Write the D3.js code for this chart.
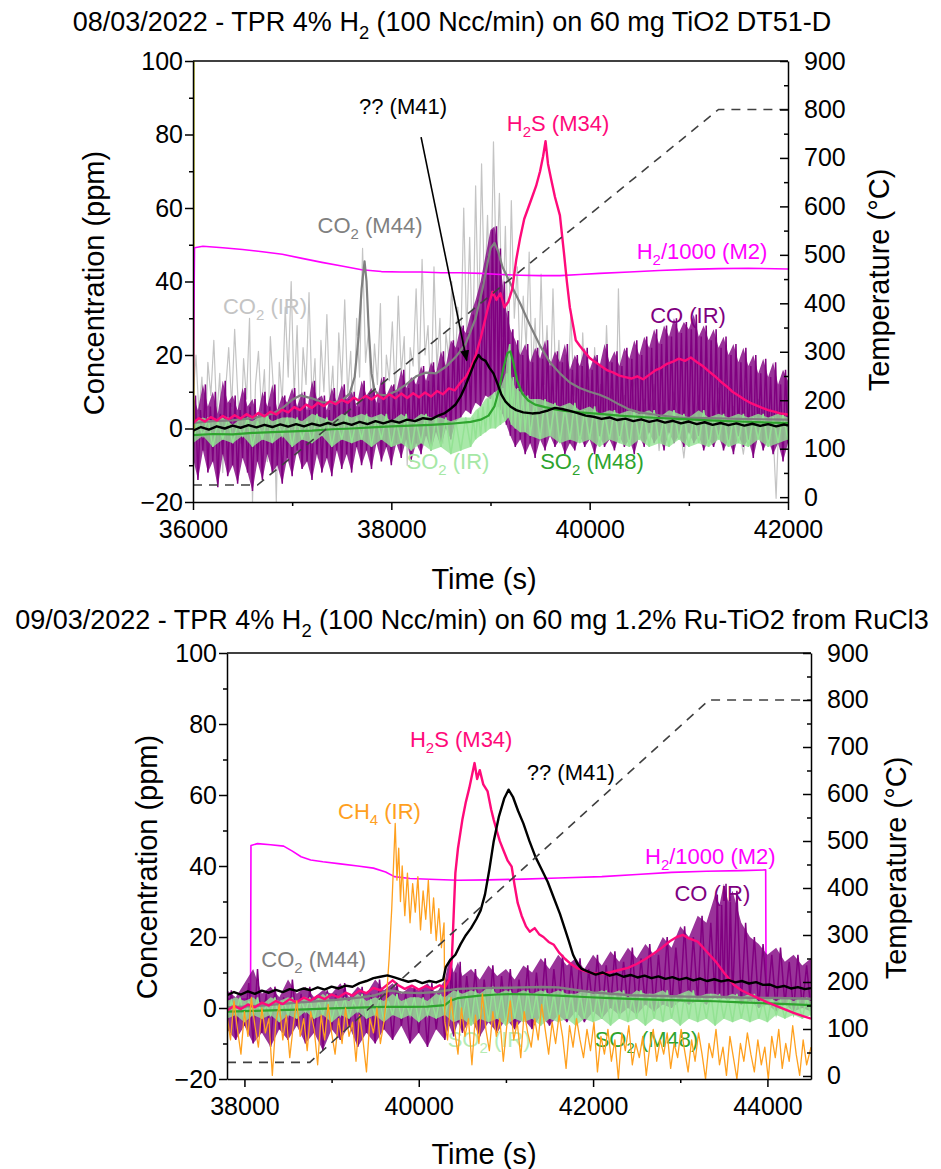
<!DOCTYPE html>
<html>
<head>
<meta charset="utf-8">
<script src="https://d3js.org/d3.v7.min.js"></script>
<style>
body { margin: 0; background: #fff; }
svg { font-family: "Liberation Sans", Arial, sans-serif; }
.axis path, .axis line { stroke: #000; stroke-width: 1.5; }
.axis text { font-size: 25px; fill: #000; font-family: "Liberation Sans", Arial, sans-serif; }
</style>
</head>
<body>
<svg id="chart" width="941" height="1169"></svg>
<script>
// ---------- tick values ----------
var concTicks = [-20, 0, 20, 40, 60, 80, 100];
var concMinor = [-10, 10, 30, 50, 70, 90];
var tempTicks = [0, 100, 200, 300, 400, 500, 600, 700, 800, 900];
var tempMinor = [50, 150, 250, 350, 450, 550, 650, 750, 850];
var timeTicksTop = [36000, 38000, 40000, 42000];
var timeMinorTop = [37000, 39000, 41000];
var timeTicksBot = [38000, 40000, 42000, 44000];
var timeMinorBot = [39000, 41000, 43000];

// ---------- panel 1 : TiO2 DT51-D (08/03/2022) ----------
var tempTop = [[36000,25],[36650,25],[41300,800],[42000,800]];
var odd1Top = [[36010,-1],[36010,101]];
var h2Top = [[36000,1],[36015,49.2],[36100,49.6],[36300,49.2],[36500,48.7],[36700,48.1],[36900,47.4],[37100,46.3],[37300,45.2],[37500,44.2],[37700,43.2],[37900,42.7],[38100,42.6],[38300,42.6],[38500,42.4],[38700,42.4],[38900,42.2],[39100,41.9],[39300,41.7],[39500,41.6],[39700,41.6],[39900,41.9],[40100,42.2],[40400,42.6],[40700,43.0],[41000,43.3],[41300,43.5],[41600,43.6],[42000,43.4]];
var h2sTop = [[36000,1.5],[36060,2.8],[36120,1.9],[36180,3.1],[36240,2.2],[36300,3.4],[36360,2.5],[36420,3.6],[36480,2.7],[36540,3.9],[36600,3.0],[36660,4.2],[36720,3.3],[36780,4.6],[36840,3.8],[36900,5.1],[36960,4.4],[37020,5.8],[37080,5.0],[37140,6.5],[37200,5.6],[37260,7.0],[37320,6.1],[37380,7.4],[37440,6.6],[37500,7.8],[37560,7.0],[37620,8.4],[37680,7.5],[37740,8.9],[37800,7.9],[37860,9.1],[37920,8.0],[37980,9.3],[38040,8.2],[38100,9.5],[38160,8.3],[38220,9.6],[38280,8.5],[38340,9.8],[38400,8.7],[38460,10.2],[38520,9.3],[38580,10.9],[38640,10.4],[38700,12.6],[38750,14.0],[38800,16.5],[38850,19.8],[38900,24.5],[38940,29.0],[38980,33.5],[39020,37.2],[39060,35.0],[39100,36.8],[39140,33.0],[39180,34.5],[39220,38.0],[39260,46.0],[39300,52.0],[39340,57.0],[39380,60.0],[39420,63.0],[39460,66.0],[39500,70.0],[39530,74.0],[39555,78.2],[39580,72.0],[39610,68.0],[39650,63.0],[39700,58.0],[39740,48.0],[39770,40.0],[39800,33.0],[39830,28.5],[39860,24.0],[39900,22.5],[39950,20.8],[40000,19.2],[40060,18.0],[40120,16.9],[40180,15.8],[40240,15.2],[40300,14.4],[40360,14.0],[40420,13.6],[40480,14.2],[40540,13.4],[40600,14.6],[40660,15.8],[40720,16.5],[40780,17.6],[40840,18.2],[40900,19.0],[40960,18.4],[41020,19.3],[41080,18.1],[41140,17.0],[41200,15.6],[41260,14.3],[41320,12.8],[41380,11.5],[41440,10.0],[41500,9.0],[41560,7.9],[41620,7.0],[41680,6.3],[41740,5.6],[41800,5.0],[41860,4.6],[41920,4.1],[42000,3.8]];
var m41Top = [[36000,-0.6],[36080,0.4],[36160,-0.3],[36240,0.6],[36320,0.0],[36400,0.8],[36480,0.2],[36560,0.9],[36640,0.3],[36720,1.0],[36800,0.4],[36880,1.1],[36960,0.5],[37040,1.2],[37120,0.6],[37200,1.3],[37280,0.8],[37360,1.5],[37440,0.9],[37520,1.6],[37600,1.0],[37680,1.8],[37760,1.2],[37840,2.0],[37920,1.4],[38000,2.1],[38080,1.6],[38160,2.4],[38240,2.0],[38320,2.8],[38400,2.5],[38480,3.6],[38540,4.2],[38600,5.4],[38650,6.6],[38700,8.8],[38750,11.8],[38800,15.2],[38840,18.0],[38880,20.0],[38910,19.0],[38950,18.4],[38990,16.5],[39030,15.0],[39070,12.2],[39110,9.2],[39150,7.4],[39200,6.0],[39260,5.0],[39330,4.4],[39420,4.1],[39500,4.3],[39580,4.9],[39650,5.6],[39720,5.3],[39800,4.8],[39880,4.2],[39960,3.5],[40040,3.2],[40120,2.6],[40200,3.0],[40280,2.3],[40360,2.7],[40440,2.0],[40520,2.5],[40600,1.8],[40680,2.3],[40760,1.6],[40840,2.1],[40920,1.4],[41000,1.9],[41080,1.2],[41160,1.7],[41240,1.0],[41320,1.5],[41400,0.9],[41480,1.4],[41560,0.8],[41640,1.3],[41720,0.7],[41800,1.2],[41880,0.6],[41960,1.1],[42000,0.8]];
var co2msTop = [[36000,1.5],[36200,2.0],[36400,2.2],[36600,2.8],[36800,4.0],[36900,5.5],[37000,7.8],[37080,9.0],[37200,8.2],[37300,7.2],[37400,7.0],[37500,7.6],[37580,9.5],[37630,14.0],[37670,25.0],[37700,38.0],[37730,45.5],[37750,40.0],[37770,28.0],[37800,15.0],[37830,10.5],[37870,9.2],[37950,9.0],[38050,10.2],[38150,12.0],[38250,14.2],[38350,15.2],[38450,15.0],[38550,16.8],[38650,19.5],[38750,23.0],[38850,30.0],[38920,38.0],[38970,45.0],[39000,49.0],[39040,50.5],[39080,48.0],[39120,44.0],[39200,39.5],[39300,34.0],[39400,28.0],[39500,22.5],[39600,18.0],[39700,15.0],[39800,12.5],[39900,11.0],[40000,10.0],[40100,9.2],[40200,8.0],[40300,6.5],[40400,5.2],[40500,4.4],[40700,3.6],[40900,3.0],[41200,2.8],[41500,2.6],[41800,2.5],[42000,2.4]];
var so2msTop = [[36000,-1.8],[36200,-1.5],[36400,-1.6],[36600,-1.2],[36800,-1.0],[37000,-0.8],[37200,-0.6],[37400,-0.2],[37600,0.0],[37800,0.3],[38000,0.6],[38200,0.8],[38400,1.0],[38600,1.3],[38800,1.8],[38900,2.4],[38980,3.5],[39040,6.0],[39090,11.0],[39130,16.5],[39170,20.5],[39200,21.0],[39230,18.0],[39270,13.0],[39320,9.5],[39380,7.6],[39450,6.5],[39550,5.8],[39650,5.2],[39750,4.8],[39900,4.4],[40100,4.0],[40300,3.5],[40600,3.0],[40900,2.6],[41200,2.2],[41500,1.9],[41800,1.6],[42000,1.5]];
var co2irTop = [[36000,8],[36030,20],[36060,4],[36090,14],[36120,-6],[36150,18],[36180,9],[36210,24],[36240,3],[36270,15],[36300,-12],[36330,11],[36360,22],[36390,6],[36420,27],[36450,10],[36480,-4],[36510,19],[36540,8],[36570,30],[36600,-20],[36630,12],[36660,21],[36690,5],[36720,16],[36750,-9],[36780,25],[36810,11],[36840,-20],[36870,18],[36900,7],[36930,33],[36960,14],[36990,40],[37020,9],[37050,28],[37080,-3],[37110,22],[37140,12],[37170,37],[37200,8],[37230,19],[37260,-8],[37290,24],[37320,10],[37350,31],[37380,6],[37410,17],[37440,-5],[37470,26],[37500,12],[37530,35],[37560,9],[37590,21],[37620,-2],[37650,30],[37680,14],[37710,49],[37740,18],[37770,27],[37800,4],[37830,23],[37860,12],[37890,34],[37920,-6],[37950,20],[37980,13],[38010,29],[38040,8],[38070,36],[38100,15],[38130,25],[38160,-10],[38190,22],[38220,17],[38250,38],[38280,12],[38310,46],[38340,20],[38370,28],[38400,5],[38430,44],[38460,16],[38490,30],[38520,-4],[38550,26],[38580,19],[38610,40],[38640,14],[38670,33],[38700,22],[38730,60],[38760,25],[38790,52],[38820,18],[38850,66],[38880,28],[38910,72],[38940,35],[38970,58],[39000,30],[39030,78],[39060,40],[39090,64],[39120,25],[39150,55],[39180,20],[39210,62],[39240,30],[39270,44],[39300,15],[39330,36],[39360,22],[39390,48],[39420,14],[39450,30],[39480,8],[39510,42],[39540,12],[39570,28],[39600,5],[39630,38],[39660,10],[39690,24],[39720,-3],[39750,20],[39780,7],[39810,32],[39840,9],[39870,16],[39900,2],[39930,26],[39960,6],[39990,14],[40020,-2],[40050,22],[40080,5],[40110,12],[40140,1],[40170,28],[40200,6],[40230,11],[40260,-5],[40290,38],[40320,4],[40350,9],[40400,2],[40450,14],[40500,-3],[40550,8],[40600,1],[40650,12],[40700,-6],[40750,7],[40800,0],[40850,10],[40900,3],[40950,-8],[41000,6],[41050,1],[41100,9],[41150,-2],[41200,5],[41250,0],[41300,11],[41350,2],[41400,-4],[41450,6],[41500,1],[41550,-7],[41600,4],[41650,0],[41700,8],[41750,-3],[41800,3],[41850,-1],[41880,-19],[41910,4],[41950,0],[42000,3]];
// noisy IR signals kept as [time, low, high] envelopes
var coirTop = [[36000,-8,9],[36050,-14,5],[36100,-6,12],[36150,-12,6],[36200,-9,10],[36250,-16,4],[36300,-7,13],[36350,-13,7],[36400,-10,9],[36450,-15,5],[36500,-8,11],[36550,-12,6],[36600,-17,8],[36650,-9,3],[36700,-14,10],[36750,-7,6],[36800,-12,12],[36850,-10,5],[36900,-15,9],[36950,-8,7],[37000,-13,11],[37050,-6,6],[37100,-11,10],[37150,-9,5],[37200,-14,13],[37250,-7,8],[37300,-12,9],[37350,-8,5],[37400,-13,11],[37450,-6,7],[37500,-11,12],[37550,-7,8],[37600,-12,10],[37650,-5,6],[37700,-10,13],[37750,-6,9],[37800,-11,11],[37850,-4,7],[37900,-9,14],[37950,-5,9],[38000,-10,12],[38050,-4,10],[38100,-8,16],[38150,-3,11],[38200,-9,14],[38250,-4,12],[38300,-7,17],[38350,-2,13],[38400,-6,18],[38450,-1,15],[38500,-5,21],[38550,0,17],[38600,-3,24],[38650,2,22],[38700,3,28],[38750,5,26],[38800,4,31],[38850,7,35],[38900,6,40],[38950,9,47],[39000,8,54],[39040,10,55],[39080,6,49],[39120,4,40],[39160,1,32],[39200,-2,27],[39250,-5,24],[39300,-3,20],[39350,-7,23],[39400,-4,18],[39450,-8,22],[39500,-3,19],[39550,-6,24],[39600,-2,17],[39650,-5,21],[39700,-3,18],[39750,-7,23],[39800,-4,16],[39850,-6,20],[39900,-2,17],[39950,-5,22],[40000,-3,16],[40050,-7,20],[40100,-2,17],[40150,-5,23],[40200,-3,18],[40250,-6,21],[40300,-2,17],[40350,-5,22],[40400,-3,19],[40450,-7,24],[40500,-2,20],[40550,-5,25],[40600,-1,22],[40650,-4,27],[40700,-2,23],[40750,-6,28],[40800,-1,25],[40850,-4,30],[40900,-2,26],[40950,-5,29],[41000,-1,27],[41050,-4,31],[41100,-2,25],[41150,-6,28],[41200,-3,24],[41250,-5,27],[41300,-2,22],[41350,-6,25],[41400,-3,20],[41450,-7,23],[41500,-2,18],[41550,-5,22],[41600,-3,17],[41650,-8,20],[41700,-2,15],[41750,-6,19],[41800,-3,14],[41850,-7,18],[41900,-4,12],[41950,-9,16],[42000,-4,13]];
var so2irTop = [[36000,-4,2],[36100,-2,3],[36200,-5,2],[36300,-3,3],[36400,-4,1],[36500,-2,3],[36600,-5,2],[36700,-3,4],[36800,-4,2],[36900,-2,3],[37000,-5,3],[37100,-3,2],[37200,-4,4],[37300,-2,3],[37400,-5,2],[37500,-3,4],[37600,-4,3],[37700,-3,4],[37800,-5,3],[37900,-3,4],[38000,-5,2],[38100,-4,4],[38200,-6,2],[38300,-4,4],[38400,-6,3],[38500,-5,3],[38600,-7,2],[38700,-6,3],[38800,-5,3],[38850,-3,5],[38900,-2,6],[38950,-1,8],[39000,0,9],[39050,0,10],[39100,1,11],[39150,2,15],[39180,3,23],[39210,1,14],[39250,0,11],[39300,-1,10],[39350,-1,9],[39400,-2,8],[39500,-3,8],[39600,-2,7],[39700,-4,6],[39800,-3,7],[39900,-4,5],[40000,-3,6],[40100,-5,4],[40200,-3,5],[40300,-4,4],[40400,-5,5],[40500,-3,4],[40600,-5,5],[40700,-4,3],[40800,-5,5],[40900,-3,4],[41000,-5,3],[41100,-4,5],[41200,-5,3],[41300,-3,4],[41400,-5,3],[41500,-4,4],[41600,-5,3],[41700,-3,4],[41800,-5,3],[41900,-4,4],[42000,-3,3]];

// ---------- panel 2 : 1.2% Ru-TiO2 (09/03/2022) ----------
var tempBot = [[37800,29],[38750,29],[43330,800],[44500,800]];
var h2Bot = [[37800,2.5],[38070,2.5],[38075,45.8],[38150,46.3],[38300,46.0],[38450,45.6],[38550,44.2],[38650,42.6],[38760,41.7],[38900,41.2],[39100,40.6],[39300,40.0],[39480,39.4],[39620,38.3],[39720,37.0],[39900,36.5],[40200,36.2],[40450,36.0],[40800,36.1],[41200,36.3],[41600,36.6],[42100,37.0],[42500,37.6],[42900,38.2],[43300,38.5],[43700,38.7],[43980,38.9],[43985,1.5],[44500,1.5]];
var h2sBot = [[37800,-0.8],[37880,0.6],[37960,-0.3],[38040,1.0],[38120,0.2],[38200,1.5],[38280,0.7],[38360,2.0],[38440,1.1],[38520,2.5],[38600,1.6],[38680,2.9],[38760,2.1],[38840,3.4],[38920,2.5],[39000,3.8],[39080,3.0],[39160,4.3],[39240,3.5],[39320,4.9],[39400,4.2],[39480,5.7],[39560,5.0],[39640,6.6],[39700,7.8],[39760,6.5],[39840,5.4],[39920,6.3],[40000,5.2],[40080,6.2],[40160,5.4],[40240,6.4],[40300,5.8],[40350,8.0],[40380,14.0],[40400,26.0],[40420,38.0],[40450,45.0],[40500,53.0],[40540,58.0],[40580,62.0],[40610,65.5],[40640,69.0],[40670,64.5],[40700,67.0],[40740,63.0],[40790,61.0],[40830,56.0],[40860,53.0],[40900,49.5],[40930,47.0],[40970,44.5],[41020,41.5],[41066,39.8],[41100,34.5],[41135,29.6],[41180,26.0],[41230,23.0],[41273,21.5],[41330,22.5],[41380,20.8],[41430,20.0],[41490,18.6],[41550,17.8],[41610,15.6],[41680,13.8],[41750,12.3],[41820,11.2],[41890,10.5],[41980,9.8],[42100,9.6],[42200,10.1],[42300,10.7],[42400,11.3],[42500,12.4],[42600,13.8],[42700,15.4],[42790,17.0],[42880,18.8],[42960,20.0],[43030,20.6],[43100,19.6],[43200,18.7],[43300,16.0],[43410,13.0],[43500,10.0],[43617,6.5],[43700,5.0],[43800,3.8],[43894,2.8],[44000,1.6],[44100,0.6],[44200,-0.4],[44300,-1.4],[44400,-2.2],[44500,-3.0]];
var m41Bot = [[37800,3.6],[37880,4.5],[37960,3.8],[38040,4.7],[38120,4.0],[38200,4.9],[38280,4.3],[38360,5.1],[38440,4.5],[38520,5.3],[38600,4.8],[38680,5.5],[38760,5.0],[38840,5.8],[38920,5.2],[39000,6.0],[39080,5.5],[39160,6.3],[39240,6.0],[39320,7.0],[39400,7.6],[39480,8.4],[39560,8.8],[39640,9.2],[39720,8.6],[39800,8.0],[39880,7.4],[39960,7.8],[40040,7.0],[40120,7.6],[40200,7.2],[40280,8.0],[40310,11.5],[40360,13.5],[40420,15.0],[40480,18.0],[40540,20.5],[40600,22.5],[40660,25.0],[40710,27.5],[40760,32.0],[40810,39.0],[40860,47.0],[40920,54.0],[40980,59.0],[41030,61.5],[41080,59.5],[41140,55.5],[41200,52.0],[41270,47.0],[41340,42.5],[41410,39.0],[41480,35.5],[41550,31.0],[41620,26.5],[41680,22.0],[41720,19.0],[41770,15.0],[41820,12.5],[41870,11.0],[41950,10.2],[42030,9.4],[42110,10.0],[42190,9.1],[42270,9.6],[42350,8.8],[42430,9.3],[42510,8.6],[42590,9.1],[42670,8.4],[42750,8.9],[42830,8.2],[42910,8.7],[42990,8.0],[43070,8.5],[43150,7.8],[43230,8.3],[43310,7.6],[43390,8.1],[43470,7.5],[43550,7.9],[43630,7.2],[43710,7.6],[43790,6.9],[43870,7.3],[43950,6.5],[44030,6.6],[44110,5.8],[44190,6.2],[44270,5.5],[44350,5.9],[44430,5.3],[44500,5.6]];
var co2msBot = [[37800,0.2],[38000,0.4],[38200,0.7],[38400,1.1],[38650,1.6],[38900,2.0],[39100,2.4],[39340,3.0],[39500,3.6],[39620,4.6],[39690,4.9],[39800,4.4],[40000,4.2],[40200,4.5],[40445,5.4],[40700,5.6],[41000,5.7],[41200,5.8],[41411,5.9],[41600,5.8],[41824,5.0],[42000,4.4],[42200,4.0],[42445,3.6],[42800,3.4],[43100,3.2],[43480,3.1],[43800,2.9],[44100,2.8],[44500,2.6]];
var so2msBot = [[37800,-1.0],[38100,-0.8],[38400,-0.6],[38700,-0.4],[39000,-0.1],[39300,0.1],[39600,0.3],[39900,0.3],[40100,0.4],[40300,0.8],[40360,2.0],[40450,2.8],[40514,3.0],[40700,3.5],[40900,3.8],[41066,3.9],[41300,3.8],[41600,3.5],[41900,3.1],[42200,2.8],[42500,2.5],[42790,2.3],[43100,2.1],[43400,1.9],[43700,1.6],[44000,1.3],[44300,1.0],[44500,0.8]];
var ch4Bot = [[37800,-2],[37840,-9],[37880,2],[37920,-6],[37960,-13],[38000,-1],[38040,-8],[38080,3],[38120,-5],[38160,-11],[38200,0],[38240,-7],[38280,-3],[38320,-19],[38360,-4],[38400,1],[38440,-9],[38480,-2],[38520,-14],[38560,-5],[38600,2],[38640,-8],[38680,-3],[38720,-12],[38760,-1],[38800,-6],[38840,-16],[38880,-2],[38920,-9],[38960,1],[39000,-7],[39040,-13],[39080,-3],[39120,-10],[39160,0],[39200,-8],[39240,-4],[39280,-15],[39320,-2],[39360,-9],[39400,-18],[39440,-3],[39480,-7],[39520,0],[39560,-10],[39600,-4],[39630,3],[39660,14],[39690,28],[39710,40],[39730,52],[39750,36],[39770,45],[39790,30],[39810,40],[39840,26],[39870,38],[39900,24],[39930,35],[39960,27],[39990,37],[40020,22],[40050,33],[40080,25],[40110,36],[40140,21],[40170,31],[40200,19],[40230,28],[40260,17],[40290,24],[40300,-4],[40330,-9],[40370,3],[40410,-6],[40450,-13],[40490,0],[40530,-8],[40570,-3],[40610,-16],[40650,-2],[40690,-10],[40730,4],[40770,-6],[40810,-12],[40850,-1],[40890,-8],[40930,-3],[40970,-15],[41010,-5],[41050,2],[41090,-9],[41130,-4],[41170,-14],[41210,-1],[41250,-7],[41290,-11],[41330,-3],[41370,-9],[41410,1],[41450,-6],[41490,-13],[41530,-4],[41570,-10],[41610,-2],[41650,-8],[41690,-17],[41730,-5],[41770,-11],[41810,-3],[41850,-9],[41890,-14],[41930,-6],[41970,-12],[42010,-4],[42050,-18],[42090,-8],[42130,-13],[42170,-6],[42210,-15],[42250,-9],[42290,-20],[42330,-7],[42370,-12],[42410,-5],[42450,-16],[42490,-10],[42530,-14],[42570,-8],[42610,-19],[42650,-11],[42690,-6],[42730,-15],[42770,-9],[42810,-13],[42850,-7],[42890,-17],[42930,-10],[42970,-14],[43010,-6],[43050,-12],[43090,-18],[43130,-9],[43170,-15],[43210,-7],[43250,-13],[43290,-20],[43330,-10],[43370,-14],[43410,-6],[43450,-16],[43490,-11],[43530,-19],[43570,-8],[43610,-14],[43650,-20],[43690,-10],[43730,-15],[43770,-7],[43810,-13],[43850,-18],[43890,-9],[43930,-16],[43970,-11],[44010,-20],[44050,-8],[44090,-14],[44130,-6],[44170,-17],[44210,-10],[44250,-15],[44290,-5],[44330,-13],[44370,-19],[44410,-9],[44450,-16],[44500,-11]];
var coirBot = [[37800,-6,5],[37900,-9,3],[38000,-5,7],[38100,-10,11],[38200,-7,4],[38300,-11,6],[38400,-6,3],[38500,-9,8],[38600,-5,4],[38700,-10,6],[38800,-7,3],[38900,-12,5],[39000,-6,4],[39100,-9,7],[39200,-5,3],[39300,-11,6],[39400,-7,4],[39500,-10,8],[39600,-6,5],[39700,-9,7],[39800,-5,4],[39900,-10,6],[40000,-7,5],[40100,-11,7],[40200,-6,4],[40300,-9,8],[40350,-5,14],[40400,-8,10],[40450,-4,13],[40500,-7,9],[40600,-3,11],[40700,-8,8],[40800,-4,12],[40900,-7,9],[41000,-3,11],[41100,-6,8],[41200,-3,12],[41300,-6,10],[41400,-2,14],[41500,-5,11],[41600,-2,15],[41700,-4,12],[41800,-1,14],[41900,-4,11],[42000,-1,15],[42100,-3,12],[42200,0,16],[42300,-2,13],[42400,0,17],[42500,-2,14],[42600,1,18],[42700,-1,15],[42800,1,20],[42900,0,17],[43000,2,23],[43100,1,20],[43200,2,26],[43300,1,24],[43400,3,32],[43450,2,29],[43500,3,35],[43550,2,30],[43600,3,33],[43700,1,24],[43800,2,20],[43900,0,18],[44000,1,15],[44100,-1,17],[44200,1,13],[44300,-1,15],[44400,0,12],[44500,-1,14]];
var so2irBot = [[37800,-3,2],[37900,-2,3],[38000,-4,2],[38100,-2,3],[38200,-3,1],[38300,-2,3],[38400,-4,2],[38500,-2,3],[38600,-3,2],[38700,-1,3],[38800,-3,2],[38900,-2,4],[39000,-4,2],[39100,-2,3],[39200,-3,2],[39300,-1,4],[39400,-3,2],[39500,-2,3],[39600,-4,2],[39700,-2,4],[39800,-3,2],[39900,-2,3],[40000,-4,3],[40100,-2,2],[40200,-3,4],[40300,-2,3],[40400,-4,5],[40500,-3,4],[40600,-5,5],[40700,-3,4],[40800,-4,6],[40900,-3,4],[41000,-5,5],[41100,-3,4],[41200,-4,5],[41300,-3,4],[41400,-5,5],[41500,-3,4],[41600,-4,5],[41700,-3,4],[41800,-5,4],[41900,-3,5],[42000,-4,4],[42100,-3,5],[42200,-5,4],[42300,-3,5],[42400,-4,3],[42500,-3,5],[42600,-5,4],[42700,-3,4],[42800,-4,5],[42900,-3,3],[43000,-5,4],[43100,-3,5],[43200,-4,3],[43300,-3,4],[43400,-5,4],[43500,-3,3],[43600,-4,4],[43700,-3,3],[43800,-4,4],[43900,-3,2],[44000,-4,3],[44100,-2,2],[44200,-3,3],[44300,-2,2],[44400,-3,3],[44500,-2,2]];

// ---------- drawing ----------
var svg = d3.select("#chart");
var C = {
  h2: "#ff00ff", h2s: "#ff0a7a", m41: "#000000", co2ms: "#808080", co2ir: "#c4c4c4",
  coir: "#800080", so2ir: "#93e293", so2ms: "#2ea42e", ch4: "#ffa01e", temp: "#404040", odd: "#b8b800"
};

// text with _2 style subscripts
function rich(sel, str, fs) {
  var bits = str.split(/_(\d)/);
  var shift = fs * 0.28;
  bits.forEach(function(b, i) {
    if (b === "") return;
    var ts = sel.append("tspan").text(b);
    if (i % 2 === 1) ts.attr("font-size", (fs * 0.68) + "px").attr("dy", shift);
    else if (i > 0) ts.attr("dy", -shift);
  });
}

// envelope samples [t, lo, hi] drawn as a noisy trace swinging lo -> hi
function noiseTrace(data) {
  var pts = [];
  data.forEach(function(d, i) {
    var next = data[i + 1] || data[i - 1];
    var half = Math.abs(next[0] - d[0]) / 2;
    pts.push([d[0], d[1]]);
    pts.push([d[0] + half, d[2]]);
  });
  return pts;
}

function panel(cfg) {
  var x = d3.scaleLinear().domain(cfg.xDom).range(cfg.xRange);
  var y = d3.scaleLinear().domain([-20, 100]).range(cfg.yRange);
  var yT = d3.scaleLinear().domain(cfg.tDom).range(cfg.yRange);
  var g = svg.append("g");

  g.append("clipPath").attr("id", "clip" + cfg.id)
    .append("rect")
    .attr("x", cfg.xRange[0]).attr("y", cfg.yRange[1])
    .attr("width", cfg.xRange[1] - cfg.xRange[0])
    .attr("height", cfg.yRange[0] - cfg.yRange[1]);

  // labels that sit under the data
  cfg.labels.filter(function(l) { return l.under; }).forEach(function(l) { drawLabel(l); });

  var plot = g.append("g").attr("clip-path", "url(#clip" + cfg.id + ")");
  var line = d3.line().x(function(d) { return x(d[0]); }).y(function(d) { return y(d[1]); });
  var tline = d3.line().x(function(d) { return x(d[0]); }).y(function(d) { return yT(d[1]); });
  var band = d3.area().x(function(d) { return x(d[0]); })
    .y0(function(d) { return y(d[1]); }).y1(function(d) { return y(d[2]); });

  cfg.series.forEach(function(s) {
    if (s.type === "band") {
      plot.append("path").datum(s.data).attr("d", band)
        .attr("fill", s.color).attr("fill-opacity", 0.8).attr("stroke", "none");
      plot.append("path").datum(noiseTrace(s.data)).attr("d", line)
        .attr("fill", "none").attr("stroke", s.color).attr("stroke-width", 1.5);
    } else if (s.type === "temp") {
      plot.append("path").datum(s.data).attr("d", tline)
        .attr("fill", "none").attr("stroke", s.color).attr("stroke-width", 1.6)
        .attr("stroke-dasharray", "9,7");
    } else {
      plot.append("path").datum(s.data).attr("d", line)
        .attr("fill", "none").attr("stroke", s.color).attr("stroke-width", s.w)
        .attr("stroke-linejoin", "round");
    }
  });

  // arrow annotation
  if (cfg.arrow) {
    g.append("defs").append("marker").attr("id", "arr" + cfg.id)
      .attr("viewBox", "0 0 10 10").attr("refX", 9).attr("refY", 5)
      .attr("markerWidth", 7).attr("markerHeight", 7).attr("orient", "auto")
      .append("path").attr("d", "M0,1L10,5L0,9Z").attr("fill", "#000");
    g.append("line")
      .attr("x1", x(cfg.arrow[0][0])).attr("y1", y(cfg.arrow[0][1]))
      .attr("x2", x(cfg.arrow[1][0])).attr("y2", y(cfg.arrow[1][1]))
      .attr("stroke", "#000").attr("stroke-width", 1.6)
      .attr("marker-end", "url(#arr" + cfg.id + ")");
  }

  cfg.labels.filter(function(l) { return !l.under; }).forEach(function(l) { drawLabel(l); });

  function drawLabel(l) {
    var t = g.append("text").attr("x", x(l.t)).attr("y", y(l.v))
      .attr("text-anchor", "middle").attr("fill", l.color).style("font-size", "22px");
    rich(t, l.text, 22);
  }

  // frame top line
  g.append("line").attr("x1", cfg.xRange[0]).attr("x2", cfg.xRange[1])
    .attr("y1", cfg.yRange[1]).attr("y2", cfg.yRange[1])
    .attr("stroke", "#000").attr("stroke-width", 1.5);

  // left axis
  g.append("g").attr("class", "axis").attr("transform", "translate(" + cfg.xRange[0] + ",0)")
    .call(d3.axisLeft(y).tickValues(concTicks).tickSize(8).tickSizeOuter(0).tickPadding(2));
  g.append("g").attr("class", "axis").attr("transform", "translate(" + cfg.xRange[0] + ",0)")
    .call(d3.axisLeft(y).tickValues(concMinor).tickSize(4).tickFormat(""))
    .select(".domain").remove();
  // right axis (ticks inward)
  g.append("g").attr("class", "axis").attr("transform", "translate(" + cfg.xRange[1] + ",0)")
    .call(d3.axisRight(yT).tickValues(tempTicks).tickSizeInner(-8).tickSizeOuter(0).tickPadding(16));
  g.append("g").attr("class", "axis").attr("transform", "translate(" + cfg.xRange[1] + ",0)")
    .call(d3.axisRight(yT).tickValues(tempMinor).tickSizeInner(-4).tickFormat(""))
    .select(".domain").remove();
  // bottom axis
  g.append("g").attr("class", "axis").attr("transform", "translate(0," + cfg.yRange[0] + ")")
    .call(d3.axisBottom(x).tickValues(cfg.xTicks).tickSize(8).tickSizeOuter(0).tickPadding(10).tickFormat(d3.format("d")));
  g.append("g").attr("class", "axis").attr("transform", "translate(0," + cfg.yRange[0] + ")")
    .call(d3.axisBottom(x).tickValues(cfg.xMinor).tickSize(4).tickFormat(""))
    .select(".domain").remove();

  // titles
  var tt = g.append("text").attr("x", cfg.title.x).attr("y", cfg.title.y)
    .attr("text-anchor", "middle").style("font-size", "27px");
  rich(tt, cfg.title.text, 27);

  g.append("text")
    .attr("transform", "translate(" + cfg.yTitle[0] + "," + cfg.yTitle[1] + ") rotate(-90)")
    .attr("text-anchor", "middle").style("font-size", "29px").text("Concentration (ppm)");
  g.append("text")
    .attr("transform", "translate(" + cfg.tTitle[0] + "," + cfg.tTitle[1] + ") rotate(-90)")
    .attr("text-anchor", "middle").style("font-size", "29px").text("Temperature (°C)");
  g.append("text").attr("x", cfg.xTitle[0]).attr("y", cfg.xTitle[1])
    .attr("text-anchor", "middle").style("font-size", "29px").text("Time (s)");
}

panel({
  id: "a",
  xDom: [36000, 42000], xRange: [193, 788],
  yRange: [502, 61], tDom: [-10, 900],
  xTicks: timeTicksTop, xMinor: timeMinorTop,
  title: { x: 452, y: 31, text: "08/03/2022 - TPR 4% H_2 (100 Ncc/min) on 60 mg TiO2 DT51-D" },
  yTitle: [104, 283], tTitle: [889, 280], xTitle: [484, 589],
  series: [
    { type: "line", data: co2irTop, color: C.co2ir, w: 1.2 },
    { type: "band", data: coirTop, color: C.coir },
    { type: "band", data: so2irTop, color: C.so2ir },
    { type: "line", data: odd1Top, color: C.odd, w: 1.2 },
    { type: "line", data: h2Top, color: C.h2, w: 1.6 },
    { type: "line", data: co2msTop, color: C.co2ms, w: 2.2 },
    { type: "line", data: so2msTop, color: C.so2ms, w: 2.2 },
    { type: "line", data: h2sTop, color: C.h2s, w: 2.4 },
    { type: "line", data: m41Top, color: C.m41, w: 2.4 },
    { type: "temp", data: tempTop, color: C.temp }
  ],
  arrow: [[38300, 79.3], [38760, 18.5]],
  labels: [
    { t: 38118, v: 85.6, text: "?? (M41)", color: "#000" },
    { t: 39681, v: 80.9, text: "H_2S (M34)", color: C.h2s },
    { t: 37785, v: 53.2, text: "CO_2 (M44)", color: C.co2ms },
    { t: 41133, v: 46.1, text: "H_2/1000 (M2)", color: C.h2 },
    { t: 36726, v: 31.2, text: "CO_2 (IR)", color: C.co2ir },
    { t: 40992, v: 28.7, text: "CO (IR)", color: C.coir },
    { t: 38571, v: -11.0, text: "SO_2 (IR)", color: "#a6e8a6" },
    { t: 40024, v: -11.0, text: "SO_2 (M48)", color: C.so2ms }
  ]
});

panel({
  id: "b",
  xDom: [37800, 44500], xRange: [227, 811],
  yRange: [1079, 653], tDom: [-6.4, 900],
  xTicks: timeTicksBot, xMinor: timeMinorBot,
  title: { x: 472, y: 629, text: "09/03/2022 - TPR 4% H_2 (100 Ncc/min) on 60 mg 1.2% Ru-TiO2 from RuCl3" },
  yTitle: [157, 867], tTitle: [906, 868], xTitle: [484, 1164],
  series: [
    { type: "line", data: h2Bot, color: C.h2, w: 1.6 },
    { type: "band", data: coirBot, color: C.coir },
    { type: "band", data: so2irBot, color: C.so2ir },
    { type: "line", data: co2msBot, color: C.co2ms, w: 2.4 },
    { type: "line", data: so2msBot, color: C.so2ms, w: 2.2 },
    { type: "line", data: h2sBot, color: C.h2s, w: 2.4 },
    { type: "line", data: ch4Bot, color: C.ch4, w: 1.3 },
    { type: "line", data: m41Bot, color: C.m41, w: 2.4 },
    { type: "temp", data: tempBot, color: C.temp }
  ],
  labels: [
    { t: 40487, v: 73.5, text: "H_2S (M34)", color: C.h2s },
    { t: 41744, v: 64.2, text: "?? (M41)", color: "#000" },
    { t: 39549, v: 53.2, text: "CH_4 (IR)", color: C.ch4 },
    { t: 43345, v: 40.6, text: "H_2/1000 (M2)", color: C.h2 },
    { t: 43368, v: 30.1, text: "CO (IR)", color: C.coir },
    { t: 38795, v: 11.5, text: "CO_2 (M44)", color: C.co2ms },
    { t: 40807, v: -11.0, text: "SO_2 (IR)", color: "#b5ecb5", under: true },
    { t: 42613, v: -11.0, text: "SO_2 (M48)", color: C.so2ms, under: true }
  ]
});
</script>
</body>
</html>
